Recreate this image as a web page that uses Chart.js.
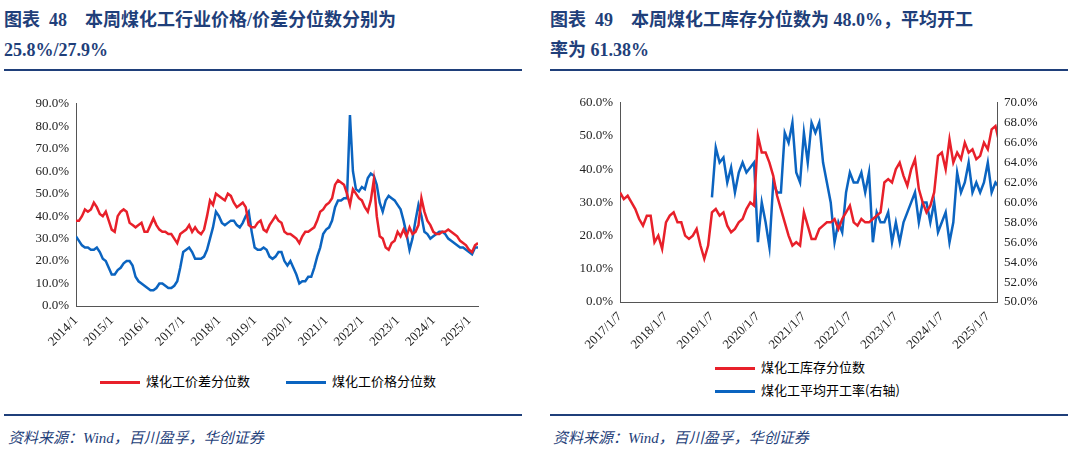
<!DOCTYPE html>
<html><head><meta charset="utf-8">
<script src="https://cdn.jsdelivr.net/npm/chart.js@4/dist/chart.umd.min.js"></script>
<style>
body{margin:0;width:1072px;height:451px;background:#fff;position:relative;overflow:hidden;font-family:"Liberation Serif","Noto Sans CJK SC",serif}
.t{position:absolute;top:5px;color:#1f3f7a;font-weight:bold;font-size:18px;line-height:30px;font-family:"Liberation Serif","Noto Sans CJK SC",serif}
.hl{position:absolute;height:2px;background:#1f3f7a}
.src{position:absolute;top:426px;font-style:italic;font-size:15px;color:#1f3f7a;font-family:"Liberation Serif","Noto Sans CJK SC",serif}
.lg{position:absolute;font-size:13px;color:#000;font-family:"Noto Sans CJK SC",serif}
.lg i{display:inline-block;width:40px;height:3px;vertical-align:middle;margin-right:6px}
canvas{position:absolute}
</style></head><body>
<div class="t" style="left:4px;width:520px">图表&nbsp;&nbsp;48&nbsp;&nbsp;&nbsp;&nbsp;本周煤化工行业价格/价差分位数分别为<br>25.8%/27.9%</div>
<div class="t" style="left:550px;width:520px">图表&nbsp;&nbsp;49&nbsp;&nbsp;&nbsp;&nbsp;本周煤化工库存分位数为 48.0%，平均开工<br>率为 61.38%</div>
<div class="hl" style="left:4px;width:518px;top:69px"></div>
<div class="hl" style="left:550px;width:518px;top:69px"></div>
<div class="hl" style="left:4px;width:518px;top:414px"></div>
<div class="hl" style="left:550px;width:518px;top:414px"></div>
<div class="src" style="left:8px">资料来源：Wind，百川盈孚，华创证券</div>
<div class="src" style="left:553px">资料来源：Wind，百川盈孚，华创证券</div>
<div class="lg" style="left:100px;top:371px"><i style="background:#e8202a"></i>煤化工价差分位数<span style="display:inline-block;width:36px"></span><i style="background:#0b64c0"></i>煤化工价格分位数</div>
<div class="lg" style="left:715px;top:357px"><i style="background:#e8202a"></i>煤化工库存分位数</div>
<div class="lg" style="left:715px;top:380px"><i style="background:#0b64c0"></i>煤化工平均开工率(右轴)</div>
<canvas id="c1" style="left:10px;top:93px;width:480px;height:262px"></canvas>
<canvas id="c2" style="left:555px;top:92px;width:490px;height:268px"></canvas>
<script>
// Left chart: monthly from 2014/1
const leftStart = 2014;
const spreadPct = [38,38,40,43,42,43,46,44,41,40,42,38,
34,33,40,42,43,42,37,36,35,36,37,33,
33,36,39,36,34,33,33,32,32,30,28,32,
33,34,36,33,35,33,32,34,40,47,45,50,
49,48,47,50,49,46,44,45,46,44,36,35,
35,37,38,34,33,36,38,40,38,37,33,32,
32,31,30,28,31,33,33,34,35,38,42,43,
45,46,48,54,56,55,54,50,45,52,50,48,
47,44,42,47,56,40,31,30,26,25,28,29,
33,31,34,31,35,32,33,36,48,42,38,36,
33,32,32,33,33,34,33,32,31,29,28,27,
25,24,27,28];
const pricePct = [31,29,27,26,26,25,25,26,24,21,20,17,
14,14,16,17,19,20,20,18,13,11,10,9,
8,7,7,8,10,10,9,8,8,9,11,17,
24,25,26,24,21,21,21,22,25,30,35,42,
40,37,36,37,38,38,36,35,37,40,42,33,
26,25,25,26,25,22,21,22,24,24,20,18,
20,17,14,10,11,11,13,13,17,22,26,32,
34,35,38,44,47,47,48,48,85,60,52,51,
53,52,57,59,58,54,46,42,47,49,48,47,
45,43,38,32,25,30,38,45,40,33,32,30,
31,32,33,33,32,30,29,28,27,26,26,25,
24,23,26,26];
const leftTicks = [2014,2015,2016,2017,2018,2019,2020,2021,2022,2023,2024,2025];
// Right chart: monthly from 2017/1/7
const rightStart = 2017;
const inventoryPct = [33,31,32,30,28,25,23,26,26,18,20,16,
24,26,27,24,24,20,19,20,22,17,13,17,
27,28,26,27,23,21,22,24,25,28,30,29,
50,45,45,42,38,32,28,24,20,17,18,17,
27,23,19,19,22,23,24,24,25,22,25,27,
29,24,23,25,24,24,25,26,27,36,37,36,
40,42,38,35,40,43,34,30,27,29,33,44,
45,40,49,42,45,43,48,45,46,43,44,48,
46,52,53,48];
const utilStart = 2019;
const utilization = [60.5,65.5,64,64.5,62,63.5,61,63,64,63,63.5,64,
56,60,58,55.5,62,61,61,67,66,68,63,62,
67,64,68,67,68,64,62,60,56,58,57,61,
63,62,62,63,61,63,56,59,58,58,59,56,
58,56,58,59,60,61,58,60,60,58,60,57,
58,59,56,58,63,61,62,64,61,62,61,62,
64,61,62,61.5];
const rightTicks = [2017,2018,2019,2020,2021,2022,2023,2024,2025];

const pts=(arr,s)=>arr.map((v,i)=>({x:s+i/12,y:v}));
const tickFont={family:"Liberation Serif",size:13};
const axisCol='#555';
function xScale(min,max,ticks,fmt,h){
  return {type:'linear',min,max,afterBuildTicks:a=>{a.ticks=ticks.map(v=>({value:v}))},
    afterFit:s=>{s.height=h},
    grid:{display:false,drawTicks:true,tickLength:4,color:axisCol},border:{color:axisCol},
    ticks:{font:tickFont,color:'#222',maxRotation:45,minRotation:45,autoSkip:false,callback:fmt}};
}
function yScale(min,max,step,w,pos){
  return {type:'linear',position:pos,min,max,afterFit:s=>{s.width=w},
    grid:{display:false,tickLength:4,color:axisCol},border:{color:axisCol},
    ticks:{stepSize:step,font:tickFont,color:'#222',callback:v=>v.toFixed(1)+'%'}};
}
const ds=(d,c,ax)=>({data:d,borderColor:c,borderWidth:2.5,pointRadius:0,tension:0,yAxisID:ax||'y'});
const common={responsive:false,animation:false,plugins:{legend:{display:false},tooltip:{enabled:false}}};
function setup(id,w,h){const c=document.getElementById(id);c.width=w;c.height=h;return c;}

new Chart(setup('c1',480,262),{type:'line',
 data:{datasets:[ds(pts(spreadPct,leftStart),'#e8202a'),ds(pts(pricePct,leftStart),'#0b64c0')]},
 options:{...common,layout:{padding:{top:10,right:12,left:0,bottom:0}},
  scales:{x:xScale(2014,2025.25,leftTicks,v=>v+'/1',49),y:yScale(0,90,10,66,'left')}}});

new Chart(setup('c2',490,268),{type:'line',
 data:{datasets:[ds(pts(inventoryPct,rightStart),'#e8202a'),ds(pts(utilization,utilStart),'#0b64c0','y2')]},
 options:{...common,layout:{padding:{top:9,right:0,left:0,bottom:0}},
  scales:{x:xScale(2017,2025.2,rightTicks,v=>v+'/1/7',58),
   y:yScale(0,60,10,65,'left'),
   y2:yScale(50,70,2,48,'right')}}});
</script>
</body></html>
